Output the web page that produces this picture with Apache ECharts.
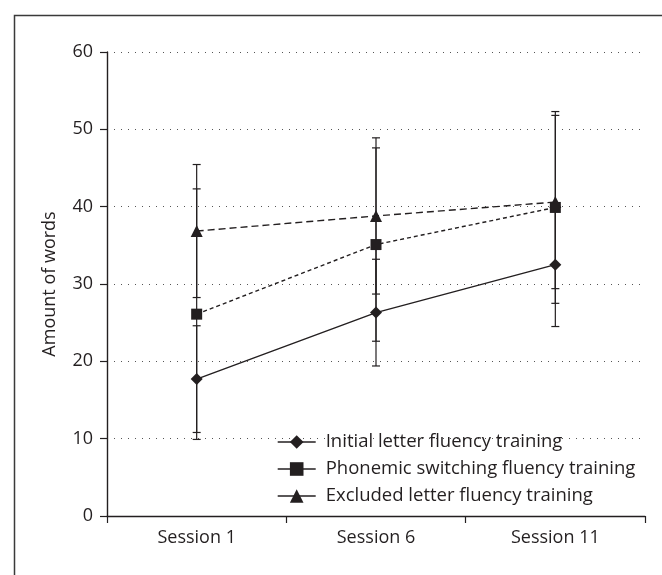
<!DOCTYPE html>
<html>
<head>
<meta charset="utf-8">
<script src="https://cdn.jsdelivr.net/npm/echarts@6/dist/echarts.min.js"></script>
<style>
html,body{margin:0;padding:0;background:#fff;}
#chart{width:662px;height:575px;}
</style>
</head>
<body>
<div id="chart"></div>
<script>
var categories = ['Session 1', 'Session 6', 'Session 11'];
var seriesNames = ['Initial letter fluency training', 'Phonemic switching fluency training', 'Excluded letter fluency training'];
var initialMean = [17.7, 26.3, 32.5];
var initialSD = [6.9, 6.9, 8.0];
var phonemicMean = [26.1, 35.1, 39.9];
var phonemicSD = [16.2, 12.5, 12.4];
var excludedMean = [36.85, 38.8, 40.6];
var excludedSD = [8.6, 10.1, 11.2];
var yTicks = [0, 10, 20, 30, 40, 50, 60];

var ink = '#231f20';
var FONT = 'Open Sans';

function errData(mean, sd) {
  return mean.map(function (m, i) { return [i, m - sd[i], m + sd[i]]; });
}
function errSeries(mean, sd) {
  return {
    type: 'custom',
    silent: true,
    z: 1,
    renderItem: function (params, api) {
      var x = api.value(0);
      var lo = api.coord([x, api.value(1)]);
      var hi = api.coord([x, api.value(2)]);
      var hw = 4;
      var st = { stroke: ink, lineWidth: 1.2 };
      return {
        type: 'group',
        children: [
          { type: 'line', shape: { x1: lo[0], y1: lo[1], x2: hi[0], y2: hi[1] }, style: st },
          { type: 'line', shape: { x1: lo[0] - hw, y1: lo[1], x2: lo[0] + hw, y2: lo[1] }, style: st },
          { type: 'line', shape: { x1: hi[0] - hw, y1: hi[1], x2: hi[0] + hw, y2: hi[1] }, style: st }
        ]
      };
    },
    data: errData(mean, sd)
  };
}
function lineSeries(name, mean, symbol, size, dash) {
  return {
    name: name,
    type: 'line',
    z: 3,
    data: mean,
    symbol: symbol,
    symbolSize: size,
    itemStyle: { color: ink, borderWidth: 0 },
    lineStyle: { color: ink, width: 1.4, type: dash },
    emphasis: { disabled: true },
    animation: false
  };
}

var chart = echarts.init(document.getElementById('chart'));
chart.setOption({
  animation: false,
  backgroundColor: '#fff',
  textStyle: { fontFamily: FONT, color: ink },
  graphic: [{
    type: 'rect',
    left: 12, top: 13,
    shape: { width: 700, height: 620 },
    style: { fill: 'none', stroke: '#3a3a3a', lineWidth: 1.5 },
    silent: true
  }],
  grid: { left: 107, right: 17, top: 52, bottom: 59, containLabel: false },
  legend: {
    orient: 'vertical',
    left: 272,
    top: 427,
    itemWidth: 38,
    itemHeight: 17,
    itemGap: 7,
    selectedMode: false,
    data: seriesNames,
    lineStyle: { type: 'solid', width: 1.4 },
    textStyle: { fontFamily: FONT, fontSize: 18.5, color: ink, lineHeight: 20, padding: [0, 0, 0, 5] }
  },
  xAxis: {
    type: 'category',
    data: categories,
    boundaryGap: true,
    axisLine: { lineStyle: { color: ink, width: 1.4 } },
    axisTick: { show: true, length: 7, lineStyle: { color: ink, width: 1.2 } },
    axisLabel: { fontFamily: FONT, fontSize: 18, color: ink, margin: 13 },
    splitLine: { show: false }
  },
  yAxis: {
    type: 'value',
    min: 0, max: 60, interval: 10,
    name: 'Amount of words',
    nameLocation: 'middle',
    nameGap: 48,
    nameTextStyle: { fontFamily: FONT, fontSize: 18, color: ink },
    axisLine: { show: true, lineStyle: { color: ink, width: 1.4 } },
    axisTick: { show: true, length: 7, lineStyle: { color: ink, width: 1.2 } },
    axisLabel: { fontFamily: FONT, fontSize: 18, color: ink, margin: 14,
      formatter: function (v) { return yTicks.indexOf(v) >= 0 ? String(v) : ''; } },
    splitLine: { show: true, lineStyle: { color: '#555', width: 1, type: [1, 6] } }
  },
  series: [
    errSeries(initialMean, initialSD),
    errSeries(phonemicMean, phonemicSD),
    errSeries(excludedMean, excludedSD),
    lineSeries(seriesNames[0], initialMean, 'diamond', 12, 'solid'),
    lineSeries(seriesNames[1], phonemicMean, 'rect', 11, [4, 3]),
    lineSeries(seriesNames[2], excludedMean, 'triangle', 12, [7, 4])
  ]
});
</script>
</body>
</html>
